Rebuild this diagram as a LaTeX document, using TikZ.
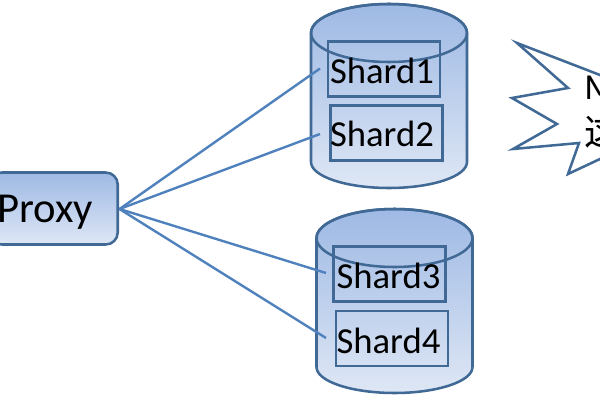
\documentclass[tikz,border=0pt]{standalone}
\usepackage{fontspec}
\setmainfont{Carlito}
\newfontfamily\cjk{Noto Sans CJK SC}
\definecolor{edgeblue}{RGB}{65,105,150}
\definecolor{linkblue}{RGB}{79,129,189}
\definecolor{topblue}{RGB}{158,185,228}
\definecolor{botblue}{RGB}{222,231,245}
\tikzset{
  outl/.style={draw=edgeblue,line width=1.9pt},
  link/.style={draw=linkblue,line width=1.8pt},
  shardbox/.style={outl,fill=none,minimum width=84pt,minimum height=41.5pt,inner sep=0pt},
  lab/.style={font=\fontsize{27.5pt}{28pt}\selectfont,inner sep=0pt,text=black},
}
\begin{document}
\begin{tikzpicture}[x=0.75pt,y=-0.75pt]
\useasboundingbox (0,0) rectangle (600,400);
\begin{scope}
\clip (0,0) rectangle (600,400);
% proxy
\node[outl,rounded corners=9pt,top color=topblue,bottom color=botblue,minimum width=96pt,minimum height=54pt,inner sep=0pt,anchor=east] (proxy) at (119,208.5) {};
\node[lab,font=\fontsize{32pt}{32pt}\selectfont,anchor=west] (proxytxt) at (-3,212) {Proxy};
% connector free ends
\coordinate (e1) at (320,68.5);
\coordinate (e2) at (320,134);
\coordinate (e3) at (326,273);
\coordinate (e4) at (326,338);
\coordinate (hub) at (119.5,209);
% cylinders
\path[outl,top color=topblue,bottom color=botblue] (311,33) -- (311,162) arc[start angle=180,end angle=0,x radius=78,y radius=26] -- (467,33) arc[start angle=0,end angle=-180,x radius=78,y radius=29] -- cycle;
\path[outl,top color=topblue,bottom color=botblue] (316.5,238) -- (316.5,367) arc[start angle=180,end angle=0,x radius=78,y radius=26] -- (472.5,238) arc[start angle=0,end angle=-180,x radius=78,y radius=29] -- cycle;
% links
\draw[link] (hub) -- (e1);
\draw[link] (hub) -- (e2);
\draw[link] (hub) -- (e3);
\draw[link] (hub) -- (e4);
% shard boxes
\node[shardbox] (s1) at (384,69) {};
\node[shardbox] (s2) at (386.5,133) {};
\node[shardbox] (s3) at (389.5,274) {};
\node[shardbox] (s4) at (392,338.5) {};
% top ellipses
\draw[outl] (311,33) arc[start angle=180,end angle=540,x radius=78,y radius=29];
\draw[outl] (316.5,238) arc[start angle=180,end angle=540,x radius=78,y radius=29];
\node[lab] (t1) at (382,71) {Shard1};
\node[lab] (t2) at (382,134) {Shard2};
\node[lab] (t3) at (388.5,276) {Shard3};
\node[lab] (t4) at (388.5,341) {Shard4};
% burst
\draw[outl] (517,43) -- (600,75) -- (640,60) -- (640,170) -- (600,159) -- (568,174) -- (579,143) -- (513,149) -- (557,124) -- (512,98) -- (568,88) -- cycle;
\node[lab,anchor=west] (m) at (584,88) {M};
\node[lab,anchor=west] (c) at (584,131) {\cjk 这};
\end{scope}
\end{tikzpicture}
\end{document}
